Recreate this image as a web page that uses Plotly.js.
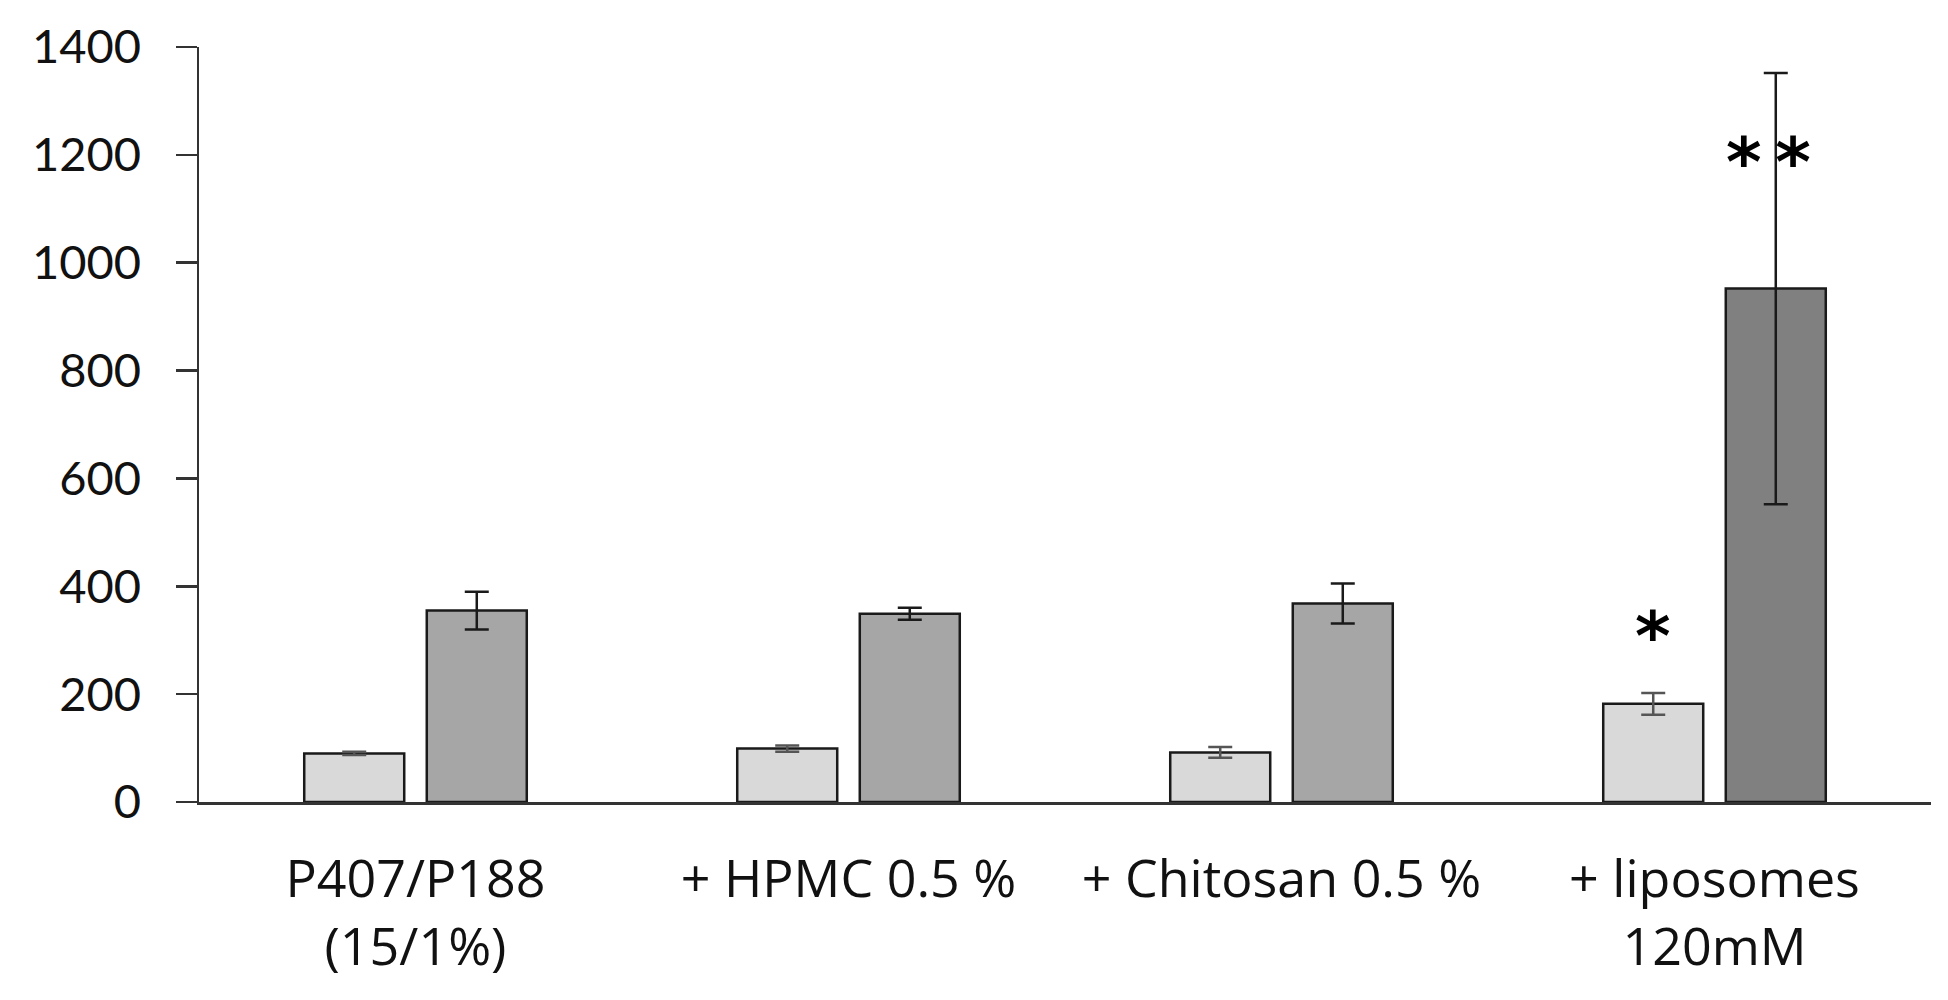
<!DOCTYPE html>
<html>
<head>
<meta charset="utf-8">
<script src="https://cdn.plot.ly/plotly-3.0.1.min.js"></script>
<style>
  html, body { margin: 0; padding: 0; background: #fff; }
  #barPlot_gel { width: 1948px; height: 1000px; }
</style>
</head>
<body>
<div id="barPlot_gel"></div>
<script>
// categories (formulations)
let categories = [
  "P407/P188<br>(15/1%)",
  "+ HPMC 0.5 %",
  "+ Chitosan 0.5 %",
  "+ liposomes<br>120mM",
];

// first series (light bars) and its error
let light_y = [90, 99, 92, 182];
let light_err = [3, 6, 10, 20];

// second series (dark bars) and its error
let dark_y = [355, 349, 368, 952];
let dark_err = [35, 11, 37, 400];
let dark_colors = ["#a6a6a6", "#a6a6a6", "#a6a6a6", "#808080"];

// significance marks: category index, which bar, text, y
let sig_cat = [3, 3];
let sig_bar = [0, 1];
let sig_text = ["*", "*\u2009*"];
let sig_y = [333, 1212];

let y_ticks = [0, 200, 400, 600, 800, 1000, 1200, 1400];

var cb_barPlot_gel = function () {
  let trace1 = {
    x: categories,
    y: light_y,
    type: "bar",
    name: "series 1",
    marker: { color: "#d9d9d9", line: { color: "#1a1a1a", width: 2.5 } },
    error_y: {
      type: "data",
      array: light_err,
      visible: true,
      color: "#555555",
      thickness: 2.5,
      width: 12,
    },
  };

  let trace2 = {
    x: categories,
    y: dark_y,
    type: "bar",
    name: "series 2",
    marker: { color: dark_colors, line: { color: "#1a1a1a", width: 2.5 } },
    error_y: {
      type: "data",
      array: dark_err,
      visible: true,
      color: "#1a1a1a",
      thickness: 2.5,
      width: 12,
    },
  };

  let data = [trace1, trace2];

  let bargap = 0.434;
  let bargroupgap = 0.184;
  // bar centre offset from the category centre, in category units
  let slot = (1 - bargap) / 2;

  let annotations = sig_text.map(function (t, i) {
    return {
      x: sig_cat[i] + (sig_bar[i] === 0 ? -slot / 2 : slot / 2),
      y: sig_y[i],
      xref: "x",
      yref: "y",
      text: "<b>" + t + "</b>",
      showarrow: false,
      xanchor: "center",
      yanchor: "middle",
      xshift: sig_bar[i] === 1 ? -7 : 0,
      yshift: -14, // the asterisk glyph sits high in its line
      font: { family: "DejaVu Sans", size: 68, color: "#000" },
    };
  });

  let layout = {
    width: 1948,
    height: 1000,
    autosize: false,
    margin: { l: 199, r: 17, b: 198, t: 47, pad: 0 },
    paper_bgcolor: "#ffffff",
    plot_bgcolor: "#ffffff",
    showlegend: false,
    font: { family: "Lato, 'Open Sans', sans-serif", size: 52, color: "#111" },

    xaxis: {
      type: "category",
      showgrid: false,
      zeroline: false,
      showline: true,
      linecolor: "#333",
      linewidth: 2.5,
      ticks: "",
      ticklabelstandoff: 30,
      tickfont: { family: "'Open Sans', Lato, sans-serif", size: 52, color: "#111" },
    },
    yaxis: {
      range: [0, 1400],
      tickvals: y_ticks,
      showgrid: false,
      zeroline: false,
      showline: true,
      linecolor: "#333",
      linewidth: 2.5,
      ticks: "outside",
      ticklen: 21,
      tickwidth: 2.5,
      tickcolor: "#333",
      ticklabelstandoff: 25,
      tickfont: { size: 47, color: "#111" },
    },

    barmode: "group",
    bargap: bargap,
    bargroupgap: bargroupgap,
    annotations: annotations,
  };
  // end layout

  let config = { staticPlot: true, displaylogo: false };

  Plotly.newPlot("barPlot_gel", data, layout, config);
};

if (document.readyState === "complete" || document.readyState !== "loading") {
  cb_barPlot_gel();
} else {
  document.addEventListener("DOMContentLoaded", cb_barPlot_gel);
}
</script>
</body>
</html>
